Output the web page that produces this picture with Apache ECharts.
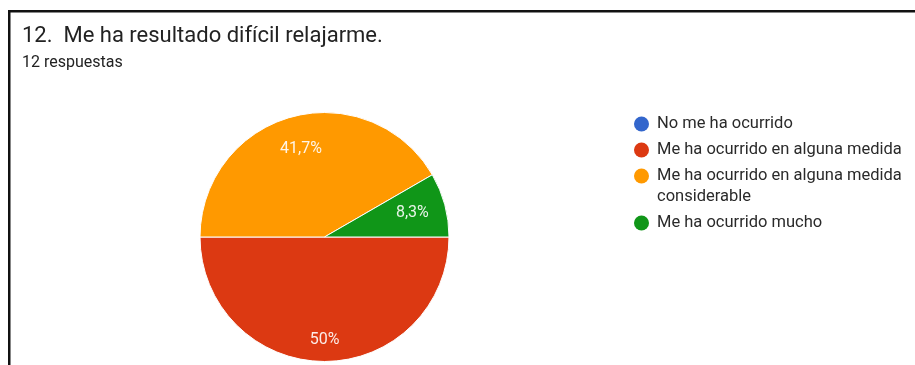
<!DOCTYPE html>
<html>
<head>
<meta charset="utf-8">
<script src="https://cdn.jsdelivr.net/npm/echarts@6/dist/echarts.min.js"></script>
<style>
  html, body { margin: 0; padding: 0; background: #fff; }
  #chart { width: 915px; height: 365px; }
</style>
</head>
<body>
<div id="chart"></div>
<script>
// Survey answers for question 12
const categories = [
  'No me ha ocurrido',
  'Me ha ocurrido en alguna medida',
  'Me ha ocurrido en alguna medida considerable',
  'Me ha ocurrido mucho'
];
const responses = [0, 6, 5, 1];
const percentLabels = ['0%', '50%', '41,7%', '8,3%'];
const legendLines = [
  ['No me ha ocurrido'],
  ['Me ha ocurrido en alguna medida'],
  ['Me ha ocurrido en alguna medida', 'considerable'],
  ['Me ha ocurrido mucho']
];
const titleText = '12.  Me ha resultado difícil relajarme.';
const subtitleText = '12 respuestas';

const colors = ['#3366cc', '#dc3912', '#ff9900', '#109618'];
const FONT = 'Roboto, Arial, sans-serif';

const chart = echarts.init(document.getElementById('chart'), null, { renderer: 'canvas' });

const cx = 324.5, cy = 237, R = 124.5;

// legend built as graphic items so the wrapped entry keeps its dot on the first line
const legendGraphics = [];
let ly = 124;
legendLines.forEach((lines, i) => {
  legendGraphics.push({
    type: 'circle',
    shape: { cx: 641.5, cy: ly, r: 7.5 },
    style: { fill: colors[i] },
    silent: true
  });
  lines.forEach((t, j) => {
    legendGraphics.push({
      type: 'text',
      x: 657,
      y: ly + j * 21,
      style: {
        text: t, fill: '#2a2a2a', font: '16.5px ' + FONT,
        textVerticalAlign: 'middle'
      },
      silent: true
    });
  });
  ly += 26 + (lines.length - 1) * 21;
});

const pieData = categories.map((name, i) => ({
  name, value: responses[i], itemStyle: { color: colors[i] }
}));

chart.setOption({
  animation: false,
  backgroundColor: '#fff',
  series: [
    {
      type: 'pie',
      center: [cx, cy],
      radius: [0, R],
      startAngle: 0,
      clockwise: true,
      minAngle: 0,
      silent: true,
      itemStyle: { borderColor: '#fff', borderWidth: 1 },
      label: { show: false },
      labelLine: { show: false },
      data: pieData
    },
    {
      // label ring: text sits at the middle of this transparent band
      type: 'pie',
      center: [cx, cy],
      radius: [51.5, R],
      startAngle: 0,
      clockwise: true,
      silent: true,
      itemStyle: { color: 'rgba(0,0,0,0)' },
      labelLine: { show: false },
      label: {
        show: true,
        position: 'inside',
        color: 'rgba(255,255,255,0.9)',
        fontFamily: FONT,
        fontSize: 16,
        formatter: p => p.value > 0 ? percentLabels[p.dataIndex] : ''
      },
      data: categories.map((name, i) => ({
        name, value: responses[i],
        label: i === 1 ? { offset: [0, 12] } : undefined
      }))
    }
  ],
  graphic: [
    { type: 'rect', shape: { x: 8, y: 10, width: 907, height: 2.5 }, style: { fill: '#111' }, silent: true },
    { type: 'rect', shape: { x: 8, y: 10, width: 2.5, height: 355 }, style: { fill: '#111' }, silent: true },
    {
      type: 'text', x: 22, y: 36,
      style: { text: titleText, fill: '#222', font: '22px ' + FONT, textVerticalAlign: 'middle' },
      silent: true
    },
    {
      type: 'text', x: 22, y: 62.5,
      style: { text: subtitleText, fill: '#222', font: '16px ' + FONT, textVerticalAlign: 'middle' },
      silent: true
    }
  ].concat(legendGraphics)
});
</script>
</body>
</html>
